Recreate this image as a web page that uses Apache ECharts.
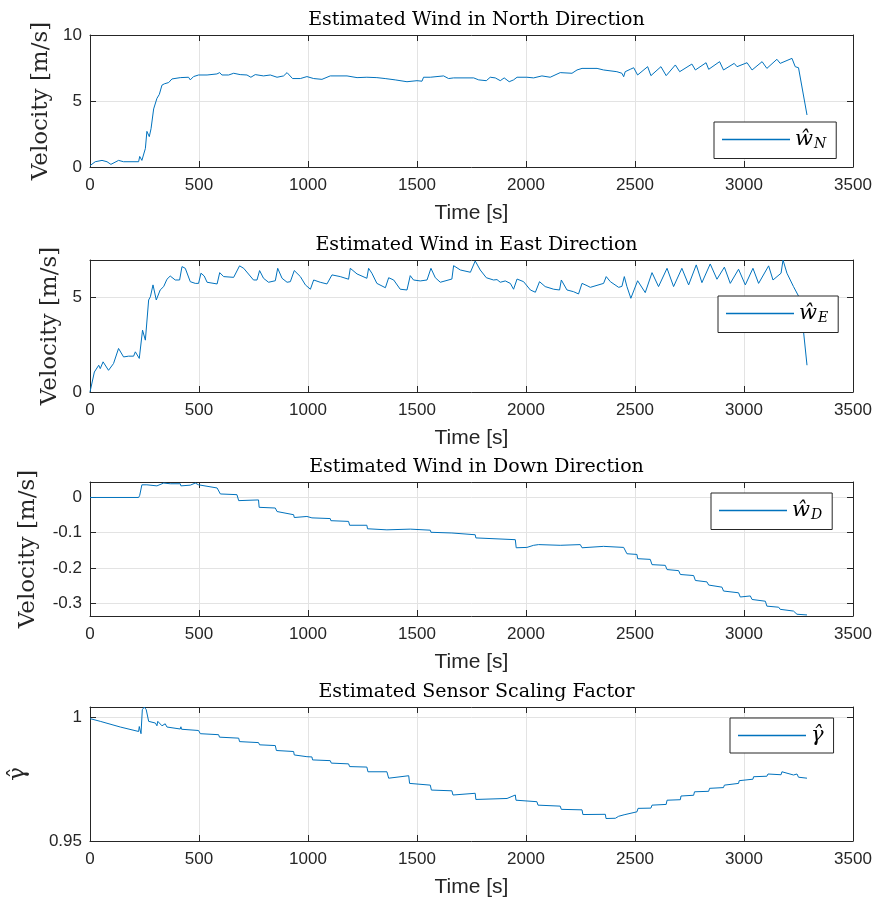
<!DOCTYPE html>
<html>
<head>
<meta charset="utf-8">
<script src="https://cdn.jsdelivr.net/npm/echarts@6/dist/echarts.min.js"></script>
<style>
  html, body { margin: 0; padding: 0; background: #fff; }
  #chart { width: 877px; height: 907px; }
</style>
</head>
<body>
<div id="chart"></div>
<script>
// Estimated wind components and sensor scaling factor over flight time, [time s, value]
const windNorth = [
  [0,0.1],[24,0.4],[55,0.5],[78,0.4],[96,0.2],[131,0.5],[154,0.4],[223,0.4],[228,0.8],[238,0.5],
  [254,1.4],[261,2.7],[272,2.3],[280,2.9],[292,4.4],[307,5.2],[318,5.5],[330,6.2],[341,6.3],[361,6.4],
  [376,6.67],[414,6.77],[452,6.8],[460,6.6],[475,6.85],[498,6.97],[537,6.97],[582,7.05],[595,7.15],[605,6.97],
  [636,6.97],[659,7.1],[689,7.0],[720,6.97],[738,6.8],[758,7.0],[796,6.9],[827,6.97],[858,6.8],[888,6.9],
  [904,7.15],[929,6.7],[965,6.7],[995,6.85],[1026,6.7],[1064,6.64],[1102,6.9],[1179,6.9],[1225,6.77],[1270,6.8],
  [1316,6.77],[1354,6.7],[1400,6.6],[1454,6.46],[1461,6.4],[1500,6.54],[1523,6.5],[1530,6.8],[1561,6.8],[1622,6.9],
  [1645,6.7],[1668,6.75],[1760,6.75],[1767,6.6],[1783,6.6],[1818,6.54],[1836,6.8],[1859,6.75],[1882,6.54],[1900,6.75],
  [1923,6.46],[1943,6.6],[1959,6.8],[2004,6.8],[2035,6.75],[2073,6.9],[2111,6.8],[2157,7.15],[2211,7.1],[2234,7.35],
  [2257,7.47],[2326,7.47],[2356,7.35],[2417,7.22],[2440,7.1],[2448,6.84],[2455,7.22],[2478,7.4],[2494,7.52],[2512,6.97],
  [2558,7.6],[2573,6.92],[2619,7.6],[2643,6.92],[2685,7.73],[2705,7.22],[2761,7.8],[2777,7.35],[2826,7.9],[2838,7.4],
  [2888,7.98],[2906,7.35],[2955,7.85],[2968,7.6],[3014,7.9],[3037,7.35],[3083,7.98],[3105,7.47],[3151,8.16],[3166,7.85],
  [3220,8.23],[3235,7.6],[3250,7.52],[3289,3.94]
];

const windEast = [
  [0,0],[20,1.06],[40,1.42],[47,1.24],[60,1.6],[85,1.15],[108,1.51],[131,2.31],[154,1.86],[177,1.9],
  [185,1.99],[200,1.9],[208,2.13],[226,1.78],[241,3.28],[254,2.75],[269,4.88],[277,5.05],[289,5.68],[304,4.88],
  [322,5.41],[338,5.59],[353,5.98],[368,6.15],[391,5.94],[411,5.94],[422,6.65],[437,6.56],[460,5.85],[483,5.76],
  [498,5.76],[509,6.3],[524,6.15],[537,5.82],[583,5.73],[595,6.33],[613,6.12],[659,6.08],[686,6.69],[705,6.56],
  [750,5.94],[766,5.94],[778,6.44],[796,6.03],[819,5.82],[850,5.9],[861,6.56],[881,6.03],[904,5.82],[919,5.85],
  [937,6.44],[965,6.12],[988,5.68],[1011,5.45],[1026,5.94],[1056,5.82],[1087,5.73],[1110,6.21],[1148,6.12],[1186,5.98],
  [1194,6.56],[1225,6.26],[1270,6.03],[1278,6.56],[1293,6.3],[1316,5.76],[1355,5.53],[1370,6.06],[1393,5.94],[1423,5.45],
  [1454,5.41],[1469,6.17],[1484,5.94],[1515,5.89],[1546,5.94],[1564,6.56],[1584,6.06],[1607,5.82],[1660,5.99],[1668,6.7],
  [1699,6.47],[1745,6.35],[1767,6.95],[1790,6.47],[1818,6.06],[1851,5.94],[1867,5.96],[1882,5.82],[1905,5.89],[1928,5.76],
  [1943,5.45],[1959,5.99],[1989,5.85],[2020,5.41],[2043,5.29],[2062,5.85],[2088,5.59],[2127,5.45],[2154,5.41],[2162,5.94],
  [2188,5.41],[2218,5.32],[2241,5.2],[2257,5.76],[2280,5.64],[2295,5.55],[2356,5.76],[2368,6.12],[2387,5.85],[2425,5.55],
  [2440,5.6],[2451,6.12],[2463,5.59],[2481,4.97],[2512,5.9],[2547,5.27],[2578,6.33],[2608,5.59],[2647,6.56],[2677,5.59],
  [2715,6.56],[2746,5.68],[2781,6.74],[2807,5.8],[2845,6.79],[2876,5.98],[2910,6.62],[2937,5.76],[2975,6.51],[3006,5.68],
  [3041,6.56],[3067,5.76],[3113,6.69],[3133,5.94],[3170,6.3],[3179,7.0],[3197,6.3],[3227,5.59],[3250,5.09],[3266,3.99],
  [3289,1.42]
];

const windDown = [
  [0,0],[223,0],[228,0.006],[238,0.036],[246,0.041],[261,0.036],[307,0.033],[338,0.041],[368,0.039],[414,0.039],
  [417,0.033],[460,0.035],[483,0.041],[498,0.036],[583,0.027],[598,0.01],[674,0.008],[682,-0.009],[773,-0.007],[776,-0.028],
  [850,-0.03],[858,-0.04],[934,-0.049],[937,-0.057],[995,-0.054],[1018,-0.058],[1102,-0.06],[1105,-0.066],[1186,-0.068],[1191,-0.079],
  [1270,-0.079],[1273,-0.089],[1362,-0.092],[1469,-0.09],[1561,-0.093],[1564,-0.099],[1660,-0.101],[1663,-0.106],[1767,-0.106],[1770,-0.115],
  [1951,-0.12],[1955,-0.143],[2004,-0.142],[2035,-0.136],[2058,-0.134],[2157,-0.136],[2249,-0.134],[2257,-0.143],[2356,-0.139],[2448,-0.142],
  [2463,-0.16],[2509,-0.162],[2512,-0.174],[2570,-0.176],[2578,-0.191],[2639,-0.193],[2647,-0.205],[2700,-0.208],[2708,-0.219],[2769,-0.222],
  [2777,-0.236],[2830,-0.24],[2838,-0.249],[2899,-0.255],[2906,-0.266],[2975,-0.271],[2983,-0.283],[3029,-0.28],[3037,-0.29],[3098,-0.295],
  [3105,-0.309],[3159,-0.312],[3166,-0.318],[3227,-0.323],[3243,-0.332],[3289,-0.334]
];

const scaleGamma = [
  [0,0.9995],[47,0.9984],[139,0.9961],[223,0.9943],[226,0.9963],[234,0.9934],[240,1.0031],[249,1.0042],[258,1.0031],[269,0.9984],
  [300,0.9977],[307,0.9966],[311,0.9984],[330,0.9966],[345,0.9974],[353,0.9961],[414,0.9953],[417,0.9962],[420,0.9952],[498,0.9947],
  [506,0.9934],[590,0.993],[594,0.992],[682,0.9916],[686,0.9902],[773,0.9898],[778,0.9889],[850,0.9886],[855,0.9866],[934,0.9862],
  [937,0.9848],[995,0.9841],[1018,0.984],[1021,0.9828],[1102,0.9825],[1107,0.9815],[1186,0.9812],[1191,0.9801],[1270,0.9799],[1275,0.978],
  [1362,0.978],[1370,0.9754],[1462,0.9764],[1466,0.9733],[1561,0.9726],[1566,0.9706],[1660,0.9703],[1665,0.9686],[1767,0.9693],[1770,0.9668],
  [1913,0.9672],[1951,0.9686],[1954,0.9665],[2050,0.9659],[2055,0.9645],[2157,0.9641],[2162,0.9628],[2257,0.9626],[2261,0.9607],[2364,0.9608],
  [2367,0.9591],[2410,0.9592],[2425,0.96],[2450,0.9606],[2452,0.9614],[2509,0.9618],[2514,0.9632],[2573,0.9633],[2578,0.9645],[2643,0.9648],
  [2647,0.9665],[2708,0.9667],[2711,0.9682],[2769,0.9685],[2773,0.9699],[2838,0.9701],[2842,0.9713],[2906,0.9716],[2910,0.9726],[2975,0.9733],
  [2978,0.9744],[3041,0.975],[3044,0.976],[3105,0.9762],[3110,0.9771],[3170,0.9768],[3174,0.978],[3227,0.9767],[3243,0.9771],[3250,0.9758],
  [3289,0.9754]
];

const timeTicks = [0, 500, 1000, 1500, 2000, 2500, 3000, 3500];
const panelTitles = [
  'Estimated Wind in North Direction',
  'Estimated Wind in East Direction',
  'Estimated Wind in Down Direction',
  'Estimated Sensor Scaling Factor'
];
const legendLabels = ['{w|ŵ}{s|N}', '{w|ŵ}{s|E}', '{w|ŵ}{s|D}', '{w|γ̂}'];

const INK = '#262626';
const LINE = '#0072BD';
const GRIDC = '#e3e3e3';
const SANS = 'Liberation Sans, Arial, sans-serif';
const SERIF = 'DejaVu Serif, serif';

const panels = [
  { top: 35,  height: 132, y: { min: 0, max: 10, interval: 5 },            yName: 'Velocity [m/s]', nameGap: 35, data: windNorth,  name: 'wN',
    legend: { left: 714, top: 122 } },
  { top: 260, height: 132, y: { min: 0, max: 7, interval: 5 },             yName: 'Velocity [m/s]', nameGap: 24, data: windEast,   name: 'wE',
    legend: { left: 718, top: 296 } },
  { top: 482, height: 134, y: { min: -0.337, max: 0.044, splitNumber: 4 }, yName: 'Velocity [m/s]', nameGap: 50, data: windDown,   name: 'wD',
    legend: { left: 711, top: 493 } },
  { top: 707, height: 134, y: { min: 0.95, max: 1.0042, splitNumber: 1 },  yName: 'γ̂',            nameGap: 60, data: scaleGamma, name: 'gamma',
    legend: { left: 730, top: 718 } }
];

const grids = [], xAxes = [], yAxes = [], series = [], titles = [], legends = [];

function yLabel(v, p) {
  const step = p.y.interval || (p.y.splitNumber === 4 ? 0.1 : 0.05);
  const r = Math.round(v / step) * step;
  if (Math.abs(r - v) > 1e-9) return '';
  return String(+r.toFixed(3));
}

panels.forEach((p, i) => {
  grids.push({ left: 90, width: 763, top: p.top, height: p.height, show: false,
    containLabel: false, outerBoundsMode: 'none' });
  const xBase = {
    gridIndex: i, type: 'value', min: 0, max: 3500, interval: 500,
    axisLine: { show: true, onZero: false, lineStyle: { color: INK, width: 1 } },
    axisTick: { show: true, inside: true, length: 6, lineStyle: { color: INK } }
  };
  xAxes.push(Object.assign({}, xBase, {
    position: 'bottom',
    name: 'Time [s]', nameLocation: 'middle', nameGap: 36,
    nameTextStyle: { fontFamily: SANS, fontSize: 21, color: INK },
    axisLabel: { fontFamily: SANS, fontSize: 17, color: INK, margin: 10,
      formatter: v => timeTicks.indexOf(v) >= 0 ? String(v) : '' },
    splitLine: { show: true, lineStyle: { color: GRIDC, width: 1 } }
  }));
  xAxes.push(Object.assign({}, xBase, {
    position: 'top', axisLabel: { show: false }, splitLine: { show: false }
  }));
  const yBase = Object.assign({
    gridIndex: i, type: 'value',
    axisLine: { show: true, onZero: false, lineStyle: { color: INK, width: 1 } },
    axisTick: { show: true, inside: true, length: 6, lineStyle: { color: INK } }
  }, p.y);
  yAxes.push(Object.assign({}, yBase, {
    position: 'left',
    name: p.yName, nameLocation: 'middle', nameGap: p.nameGap, nameRotate: 90,
    nameTextStyle: { fontFamily: SERIF, fontSize: 23, color: INK },
    axisLabel: { fontFamily: SANS, fontSize: 17, color: INK, margin: 8,
      formatter: v => yLabel(v, p) },
    splitLine: { show: true, lineStyle: { color: GRIDC, width: 1 } }
  }));
  yAxes.push(Object.assign({}, yBase, {
    position: 'right', axisLabel: { show: false }, splitLine: { show: false }
  }));
  series.push({
    name: p.name, type: 'line', xAxisIndex: 2 * i, yAxisIndex: 2 * i,
    data: p.data, showSymbol: false, symbol: 'none', animation: false,
    lineStyle: { color: LINE, width: 1 }, itemStyle: { color: LINE }
  });
  titles.push({
    text: panelTitles[i], left: 471.5, top: p.top - 29, textAlign: 'center',
    textStyle: { fontFamily: SERIF, fontSize: 19, fontWeight: 'normal', color: '#000' }
  });
  legends.push({
    data: [p.name], left: p.legend.left, top: p.legend.top,
    orient: 'horizontal', icon: 'path://M0,0 L1,0 L1,0.02 L0,0.02 Z',
    itemWidth: 68, itemHeight: 2, itemGap: 6,
    padding: [7, 10, 7, 8],
    borderColor: INK, borderWidth: 1, backgroundColor: '#fff',
    selectedMode: false,
    formatter: () => legendLabels[i],
    textStyle: {
      color: '#000', fontFamily: SERIF, fontSize: 20,
      rich: {
        w: { fontFamily: SERIF, fontStyle: 'italic', fontSize: 21, color: '#000' },
        s: { fontFamily: SERIF, fontStyle: 'italic', fontSize: 14, color: '#000', padding: [10, 0, 0, 1] }
      }
    }
  });
});

const chart = echarts.init(document.getElementById('chart'), null, { renderer: 'canvas' });
chart.setOption({
  animation: false,
  backgroundColor: '#fff',
  title: titles,
  legend: legends,
  grid: grids,
  xAxis: xAxes,
  yAxis: yAxes,
  series: series
});
</script>
</body>
</html>
